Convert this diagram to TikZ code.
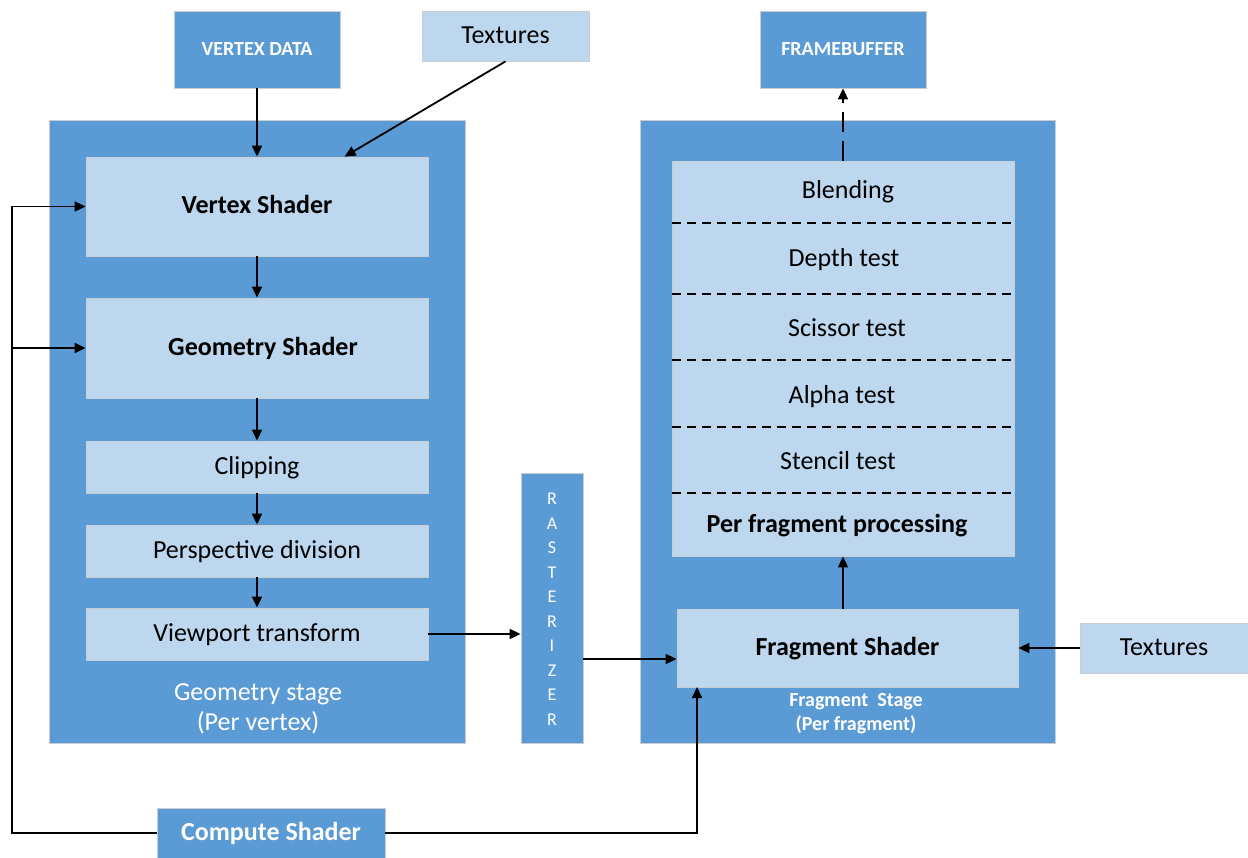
\documentclass[tikz,border=0pt]{standalone}
\usepackage{fontspec}
\setmainfont{Carlito}
\usetikzlibrary{arrows.meta,calc}
\definecolor{darkfill}{HTML}{5B9BD5}
\definecolor{lightfill}{HTML}{BDD7EE}
\definecolor{edgegray}{HTML}{C8CDD2}
\begin{document}
\begin{tikzpicture}[x=1pt,y=-1pt,
  dbox/.style={draw=edgegray,line width=0.8pt,fill=darkfill,inner sep=0pt,text=white},
  lbox/.style={draw=edgegray,line width=0.8pt,fill=lightfill,inner sep=0pt,text=black},
  big/.style={font=\fontsize{26}{30}\selectfont,text height=17pt,text depth=3pt},
  bigb/.style={font=\fontsize{26}{30}\selectfont\bfseries,text height=17pt,text depth=3pt},
  small/.style={font=\fontsize{20}{24}\selectfont\bfseries},
  arr/.style={line width=1.8pt,-{Triangle[length=11pt,width=10pt]}},
  sep/.style={line width=1.2pt,dash pattern=on 9pt off 6pt}
]
\useasboundingbox (0,0) rectangle (1248,857);

% stage containers
\node[dbox,minimum width=416,minimum height=623] (geo) at (257,431.5) {};
\node[dbox,minimum width=415,minimum height=623] (frag) at (847.5,431.5) {};
\node[dbox,minimum width=62,minimum height=270] (rast) at (552,608) {};
\foreach \l [count=\i] in {R,A,S,T,E,R,I,Z,E,R}
  \node[text=white,font=\fontsize{18}{20}\selectfont,inner sep=0pt,anchor=base]
    (rl\i) at (552,{504.5+(\i-1)*24.5}) {\l};

% inputs and output
\node[dbox,small,minimum width=166,minimum height=77] (vd) at (257,49.5) {VERTEX DATA};
\node[lbox,big,minimum width=167,minimum height=50] (tx1) at (505.5,36) {Textures};
\node[dbox,small,minimum width=166,minimum height=77] (fb) at (843,49.5) {FRAMEBUFFER};
\node[lbox,big,minimum width=168,minimum height=50] (tx2) at (1164,648) {Textures};
\node[dbox,bigb,minimum width=228,minimum height=50] (cs) at (271,833) {Compute Shader};

% geometry stage
\node[lbox,bigb,minimum width=342,minimum height=99] (vs) at (257,206.5) {Vertex Shader};
\node[lbox,bigb,minimum width=342,minimum height=100] (gs) at (257,348) {\hspace{12pt}Geometry Shader};
\node[lbox,big,minimum width=342,minimum height=52] (clip) at (257,467) {Clipping};
\node[lbox,big,minimum width=342,minimum height=52] (pd) at (257,551) {Perspective division};
\node[lbox,big,minimum width=342,minimum height=52] (vt) at (257,634) {Viewport transform};
\node[text=white,font=\fontsize{26}{30}\selectfont,align=center,inner sep=0pt] (geolbl) at (258,709) {Geometry stage\\(Per vertex)};

% fragment stage
\node[lbox,minimum width=342,minimum height=395] (pf) at (843,358.5) {};
\draw[sep] (672,223) -- (1011,223);
\draw[sep] (672,294) -- (1014,294);
\draw[sep] (672,360) -- (1014,360);
\draw[sep] (672,427) -- (1014,427);
\draw[sep] (672,493) -- (1014,493);
\node[big] (t1) at (848,191) {Blending};
\node[big] (t2) at (844,259) {Depth test};
\node[big] (t3) at (847,329) {Scissor test};
\node[big] (t4) at (842,396) {Alpha test};
\node[big] (t5) at (838,462) {Stencil test};
\node[bigb] (t6) at (837,525) {Per fragment processing};
\node[lbox,bigb,minimum width=341,minimum height=78] (fs) at (847.5,648) {Fragment Shader};
\node[text=white,small,align=center,inner sep=0pt] (fraglbl) at (856,714) {Fragment\ \ Stage\\(Per fragment)};

% connectors
\draw[arr] (vd.south) -- (vs.north);
\draw[arr] (tx1.south) -- ($(vs.north west)+(259,0)$);
\draw[arr] (vs.south) -- (gs.north);
\draw[arr] (gs.south) -- (clip.north);
\draw[arr] (clip.south) -- (pd.north);
\draw[arr] (pd.south) -- (vt.north);
\draw[arr] (vt.east) -- (vt.east -| rast.west);
\draw[arr] ($(rast.east)+(0,51)$) -- ($(fs.west)+(0,11)$);
\draw[arr] (fs.north -| pf.south) -- (pf.south);
\draw[arr,dash pattern=on 20pt off 9pt] (pf.north) -- (fb.south);
\draw[arr] (tx2.west) -- (fs.east);
\coordinate (lb) at (12,833);
\coordinate (fsin) at (697,687);
\draw[arr] (cs.west) -- (lb) |- (vs.west);
\draw[arr] (lb |- gs.west) -- (gs.west);
\draw[arr] (cs.east) -| (fsin);
\end{tikzpicture}
\end{document}
